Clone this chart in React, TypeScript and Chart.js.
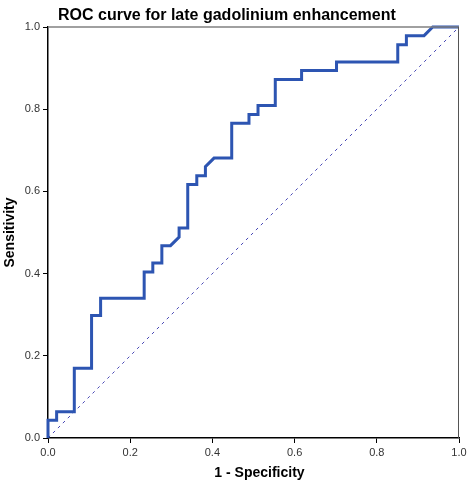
import React, { useEffect, useRef } from "react";
import { Chart, registerables } from "chart.js";

Chart.register(...registerables);

const TITLE = "ROC curve for late gadolinium enhancement";
const X_LABEL = "1 - Specificity";
const Y_LABEL = "Sensitivity";
const TICKS = [0, 0.2, 0.4, 0.6, 0.8, 1.0];

// 1 - Specificity (false positive rate) at each vertex of the ROC step curve
const fpr = [
  0, 0, 0.021, 0.021, 0.064, 0.064, 0.106, 0.106, 0.128, 0.128, 0.234, 0.234,
  0.255, 0.255, 0.277, 0.277, 0.298, 0.319, 0.319, 0.340, 0.340, 0.362, 0.362,
  0.383, 0.383, 0.404, 0.447, 0.447, 0.489, 0.489, 0.511, 0.511, 0.553, 0.553,
  0.617, 0.617, 0.702, 0.702, 0.851, 0.851, 0.872, 0.872, 0.915, 0.936, 1.0,
];
// Sensitivity at each vertex
const tpr = [
  0, 0.043, 0.043, 0.064, 0.064, 0.170, 0.170, 0.298, 0.298, 0.340, 0.340,
  0.404, 0.404, 0.426, 0.426, 0.468, 0.468, 0.489, 0.511, 0.511, 0.617, 0.617,
  0.638, 0.638, 0.660, 0.681, 0.681, 0.766, 0.766, 0.787, 0.787, 0.809, 0.809,
  0.872, 0.872, 0.894, 0.894, 0.915, 0.915, 0.957, 0.957, 0.979, 0.979, 1.0,
  1.0,
];
const refX = [0, 1];
const refY = [0, 1];

const FONT = "'Liberation Sans', Arial, sans-serif";

export default function App() {
  const ref = useRef<HTMLCanvasElement | null>(null);

  useEffect(() => {
    if (!ref.current) return;
    const decor = {
      id: "decor",
      afterDatasetsDraw(chart: any) {
        const { ctx, chartArea } = chart;
        const { left, right, top, bottom } = chartArea;
        ctx.save();
        ctx.strokeStyle = "#808080";
        ctx.lineWidth = 1.5;
        ctx.beginPath();
        ctx.moveTo(left, top);
        ctx.lineTo(right, top);
        ctx.stroke();
        ctx.strokeStyle = "#555555";
        ctx.lineWidth = 1;
        ctx.beginPath();
        ctx.moveTo(right - 0.5, top);
        ctx.lineTo(right - 0.5, bottom);
        ctx.stroke();
        ctx.restore();
      },
      afterDraw(chart: any) {
        const { ctx, chartArea } = chart;
        const { left, right, top, bottom } = chartArea;
        ctx.save();
        ctx.fillStyle = "#000";
        ctx.font = `bold 16px ${FONT}`;
        ctx.textAlign = "left";
        ctx.textBaseline = "middle";
        ctx.fillText(TITLE, left + 10, 16);
        ctx.font = `bold 14px ${FONT}`;
        ctx.textAlign = "center";
        ctx.fillText(X_LABEL, (left + right) / 2 + 6, 473);
        ctx.translate(10, (top + bottom) / 2);
        ctx.rotate(-Math.PI / 2);
        ctx.fillText(Y_LABEL, 0, 0);
        ctx.restore();
      },
    };

    const tickCfg = {
      color: "#333",
      font: { family: FONT, size: 11 },
      padding: 3,
      autoSkip: false,
    };

    const chart = new Chart(ref.current, {
      type: "scatter",
      data: {
        datasets: [
          {
            data: fpr.map((x, i) => ({ x, y: tpr[i] })),
            showLine: true,
            borderColor: "#2d55b2",
            borderWidth: 3,
            pointRadius: 0,
            fill: false,
            clip: 4,
          } as any,
          {
            data: refX.map((x, i) => ({ x, y: refY[i] })),
            showLine: true,
            borderColor: "#4646b4",
            borderWidth: 1,
            borderDash: [3, 4],
            pointRadius: 0,
            fill: false,
          } as any,
        ],
      },
      options: {
        responsive: false,
        animation: false,
        devicePixelRatio: 1,
        layout: { padding: { top: 27, right: 12, left: 0, bottom: 0 } },
        plugins: {
          legend: { display: false },
          tooltip: { enabled: false },
          title: { display: false },
        },
        scales: {
          x: {
            type: "linear",
            min: 0,
            max: 1,
            afterBuildTicks: (s: any) => {
              s.ticks = TICKS.map((v) => ({ value: v }));
            },
            afterFit: (s: any) => {
              s.height = 50;
            },
            ticks: { ...tickCfg, callback: (v: any) => Number(v).toFixed(1), maxRotation: 0 },
            grid: { drawOnChartArea: false, drawTicks: true, tickLength: 5, color: "#000" },
            border: { color: "#000", width: 1.5 },
          },
          y: {
            type: "linear",
            min: 0,
            max: 1,
            afterBuildTicks: (s: any) => {
              s.ticks = TICKS.map((v) => ({ value: v }));
            },
            afterFit: (s: any) => {
              s.width = 48;
            },
            ticks: { ...tickCfg, callback: (v: any) => Number(v).toFixed(1) },
            grid: { drawOnChartArea: false, drawTicks: true, tickLength: 5, color: "#000" },
            border: { color: "#000", width: 1.5 },
          },
        },
      },
      plugins: [decor],
    });
    return () => chart.destroy();
  }, []);

  return (
    <div style={{ position: "fixed", left: 0, top: 0, width: 471, height: 488, background: "#fff" }}>
      <canvas ref={ref} width={471} height={488} style={{ display: "block", width: 471, height: 488 }} />
    </div>
  );
}
